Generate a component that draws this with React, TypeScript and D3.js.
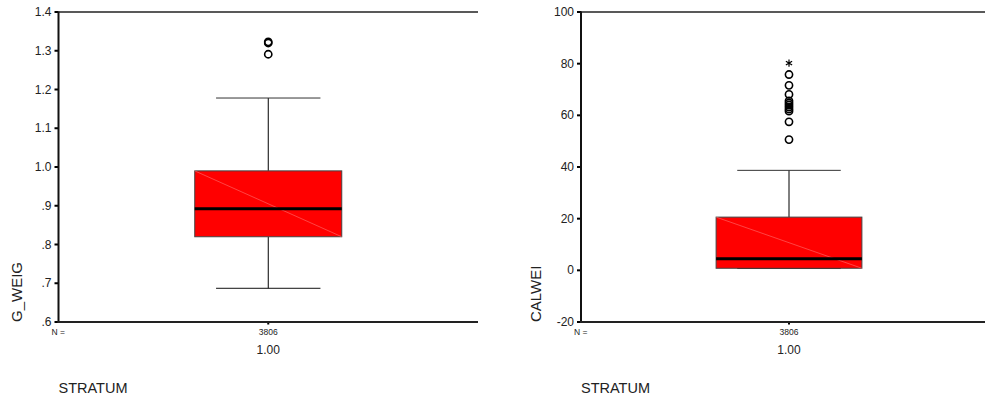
import React from "react";
import * as d3 from "d3";

// categories and counts
const categories = ["1.00"];
const counts = [3806];

// G_WEIG: [lower whisker, Q1, median, Q3, upper whisker]
const gWeigStats = [0.687, 0.82, 0.892, 0.99, 1.178];
const gWeigOutliers = [1.323, 1.32, 1.291];
const gWeigExtremes: number[] = [];
const gWeigTicks = [0.6, 0.7, 0.8, 0.9, 1.0, 1.1, 1.2, 1.3, 1.4];

// CALWEI
const calweiStats = [0.7, 0.8, 4.5, 20.6, 38.7];
const calweiOutliers = [75.8, 71.6, 68.1, 65.6, 64.8, 64.0, 63.2, 62.4, 61.6, 57.5, 50.6];
const calweiExtremes = [80.2];
const calweiTicks = [-20, 0, 20, 40, 60, 80, 100];

const FONT = "'Liberation Sans', Arial, sans-serif";
const TOP = 12;
const BOTTOM = 322;

const spssFmt = (v: number) => {
  const s = d3.format(".1f")(v);
  return s.startsWith("0.") ? s.slice(1) : s;
};

type PanelProps = {
  axisX: number;
  plotRight: number;
  domain: [number, number];
  ticks: number[];
  fmt: (v: number) => string;
  label: string;
  labelX: number;
  stats: number[];
  outliers: number[];
  extremes: number[];
};

const Panel = (p: PanelProps) => {
  const y = d3.scaleLinear().domain(p.domain).range([BOTTOM, TOP]);
  const x = d3
    .scaleBand()
    .domain(categories)
    .range([p.axisX, p.plotRight])
    .paddingInner(0.481)
    .paddingOuter(0.481);
  const star = d3.symbol(d3.symbolAsterisk, 36)();

  return (
    <g>
      {/* top frame line */}
      <line x1={p.axisX} x2={p.plotRight} y1={TOP} y2={TOP} stroke="#222" strokeWidth={1.5} />

      {categories.map((c, i) => {
        const [lo, q1, med, q3, hi] = p.stats;
        const bx = x(c)!;
        const bw = x.bandwidth();
        const cx = bx + bw / 2;
        const capW = bw * 0.71;
        return (
          <g key={c}>
            <line x1={cx} x2={cx} y1={y(hi)} y2={y(q3)} stroke="#000" strokeWidth={1} />
            <line x1={cx} x2={cx} y1={y(q1)} y2={y(lo)} stroke="#000" strokeWidth={1} />
            <line x1={cx - capW / 2} x2={cx + capW / 2} y1={y(hi)} y2={y(hi)} stroke="#333" strokeWidth={1} />
            <line x1={cx - capW / 2} x2={cx + capW / 2} y1={y(lo)} y2={y(lo)} stroke="#111" strokeWidth={1} />
            <rect x={bx} y={y(q3)} width={bw} height={y(q1) - y(q3)} fill="#ff0000" stroke="#444" strokeWidth={1} />
            <line x1={bx} y1={y(q3)} x2={bx + bw} y2={y(q1)} stroke="#ff7070" strokeWidth={0.6} />
            <line x1={bx} x2={bx + bw} y1={y(med)} y2={y(med)} stroke="#000" strokeWidth={3} />
            {p.outliers.map((v, j) => (
              <circle key={j} cx={cx} cy={y(v)} r={3.6} fill="none" stroke="#000" strokeWidth={1.6} />
            ))}
            {p.extremes.map((v, j) => (
              <path key={j} d={star} transform={`translate(${cx},${y(v)})`} stroke="#000" strokeWidth={1.2} fill="none" />
            ))}
            {/* bottom tick and counts */}
            <rect x={cx - 1} y={BOTTOM} width={2} height={2.5} fill="#000" />
            <text x={cx} y={335} fontSize={8.5} textAnchor="middle" fontFamily={FONT} fill="#222">
              {counts[i]}
            </text>
            <text x={cx} y={354} fontSize={12} textAnchor="middle" fontFamily={FONT} fill="#222">
              {c}
            </text>
          </g>
        );
      })}

      {/* y ticks */}
      {p.ticks.map((t) => (
        <g key={t}>
          <rect x={p.axisX - 4} y={y(t) - 1} width={4} height={2} fill="#000" />
          <text x={p.axisX - 7} y={y(t) + 4} fontSize={12} textAnchor="end" fontFamily={FONT} fill="#222">
            {p.fmt(t)}
          </text>
        </g>
      ))}

      {/* axes */}
      <line x1={p.axisX} x2={p.axisX} y1={TOP - 0.5} y2={BOTTOM + 1} stroke="#111" strokeWidth={2} />
      <line x1={p.axisX - 1} x2={p.plotRight} y1={BOTTOM} y2={BOTTOM} stroke="#222" strokeWidth={2} />

      <text x={p.axisX - 7} y={335} fontSize={8.5} fontFamily={FONT} fill="#222">
        N =
      </text>
      <text
        transform={`translate(${p.labelX},${BOTTOM}) rotate(-90)`}
        fontSize={15}
        fontFamily={FONT}
        fill="#222"
      >
        {p.label}
      </text>
      <text x={p.axisX} y={393} fontSize={14.5} fontFamily={FONT} fill="#222">
        STRATUM
      </text>
    </g>
  );
};

export default function App() {
  return (
    <svg
      width={985}
      height={396}
      style={{ position: "absolute", left: 0, top: 0, background: "#fff" }}
    >
      <Panel
        axisX={58.5}
        plotRight={478}
        domain={[0.6, 1.4]}
        ticks={gWeigTicks}
        fmt={spssFmt}
        label="G_WEIG"
        labelX={22}
        stats={gWeigStats}
        outliers={gWeigOutliers}
        extremes={gWeigExtremes}
      />
      <Panel
        axisX={581}
        plotRight={997}
        domain={[-20, 100]}
        ticks={calweiTicks}
        fmt={(v) => String(v)}
        label="CALWEI"
        labelX={540.5}
        stats={calweiStats}
        outliers={calweiOutliers}
        extremes={calweiExtremes}
      />
    </svg>
  );
}
